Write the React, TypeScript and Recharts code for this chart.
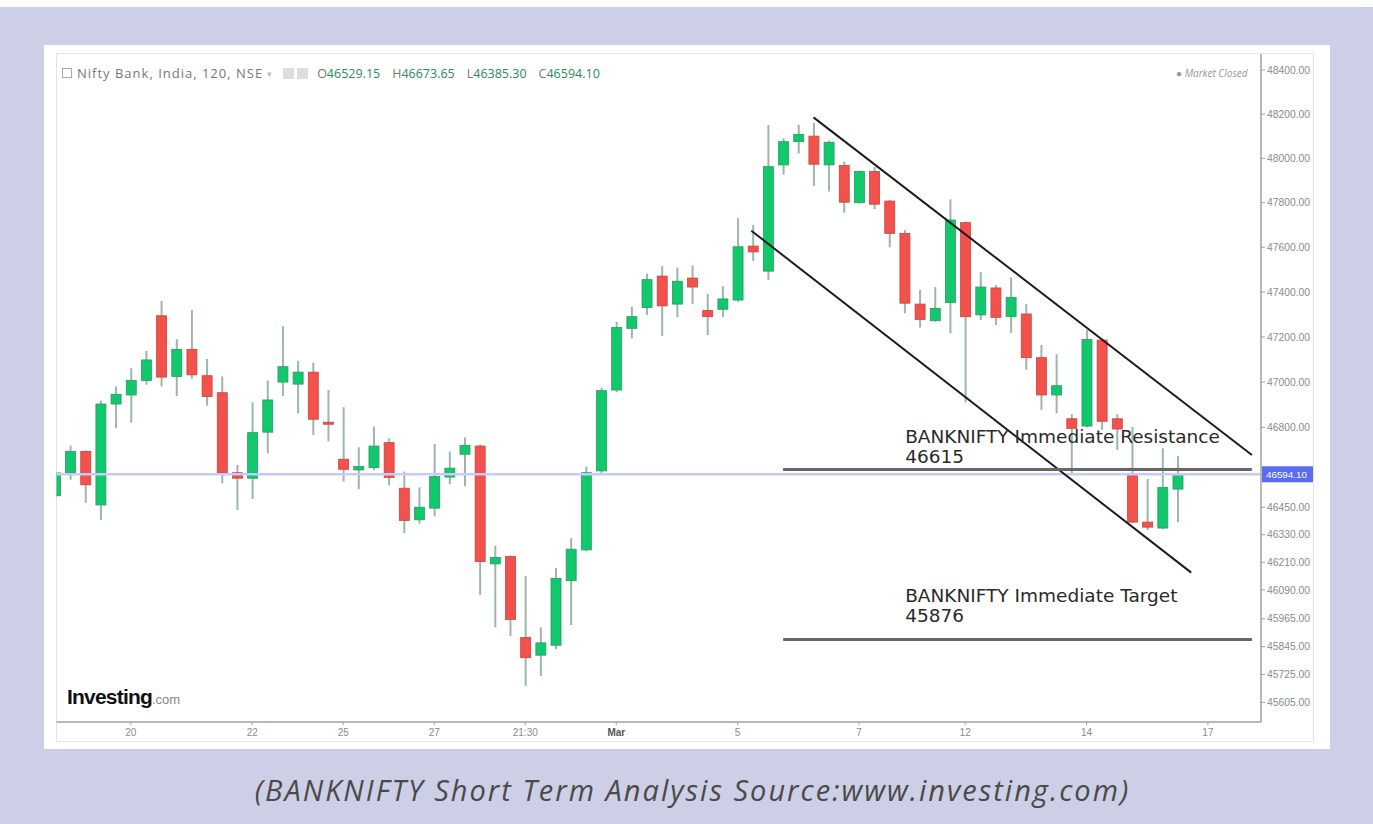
import React from 'react';
import { ComposedChart, Bar, XAxis, YAxis, ReferenceLine } from 'recharts';

// 120-minute candles (index 0 is the half-hidden one on the left edge)
const opens = [
  46500, 46601, 46694, 46460, 46903, 46943, 47007, 47294, 47025, 47145,
  47028, 46953, 46601, 46577, 46779, 47000, 46991, 47044, 46823, 46660,
  46613, 46624, 46733, 46533, 46395, 46446, 46582, 46682, 46718, 46203,
  46235, 45884, 45808, 45851, 46130, 46264, 46609, 46965, 47238, 47331,
  47471, 47346, 47462, 47317, 47323, 47364, 47605, 47493, 47970, 48075,
  48100, 47970, 47967, 47800, 47940, 47807, 47662, 47346, 47272, 47353,
  47710, 47298, 47418, 47290, 47302, 47108, 46943, 46838, 46806, 47186,
  46838, 46588, 46385, 46359, 46529.15,
];
const highs = [
  46615, 46720, 46700, 46918, 46980, 47061, 47138, 47360, 47191, 47320,
  47102, 47025, 46635, 46911, 47007, 47248, 47094, 47086, 46965, 46889,
  46713, 46804, 46752, 46606, 46537, 46727, 46694, 46756, 46725, 46282,
  46240, 46151, 45928, 46185, 46315, 46628, 46975, 47267, 47334, 47482,
  47515, 47509, 47519, 47391, 47426, 47730, 47700, 48150, 48090, 48150,
  48160, 48080, 47985, 47945, 47962, 47812, 47677, 47410, 47422, 47815,
  47715, 47489, 47430, 47465, 47346, 47164, 47123, 46858, 47231, 47190,
  46858, 46803, 46574, 46708, 46673.65,
];
const lows = [
  46480, 46570, 46470, 46395, 46796, 46821, 46988, 46980, 46939, 47015,
  46895, 46555, 46438, 46486, 46686, 46939, 46862, 46767, 46738, 46562,
  46529, 46613, 46545, 46337, 46378, 46410, 46551, 46541, 46068, 45928,
  45890, 45676, 45719, 45834, 45938, 46258, 46598, 46955, 47194, 47298,
  47204, 47288, 47346, 47208, 47288, 47357, 47539, 47453, 47925, 48022,
  47875, 47850, 47755, 47795, 47771, 47600, 47305, 47242, 47268, 47216,
  46910, 47275, 47253, 47218, 47054, 46877, 46862, 46598, 46800, 46789,
  46701, 46380, 46350, 46355, 46385.3,
];
const closes = [
  46600, 46694, 46548, 46903, 46946, 47007, 47098, 47022, 47145, 47032,
  46936, 46601, 46577, 46777, 46921, 47068, 47044, 46836, 46814, 46616,
  46628, 46718, 46580, 46392, 46450, 46584, 46621, 46721, 46213, 46231,
  45962, 45797, 45861, 46140, 46267, 46601, 46962, 47242, 47290, 47455,
  47338, 47448, 47422, 47290, 47369, 47602, 47579, 47962, 48075, 48108,
  47973, 48072, 47802, 47940, 47793, 47662, 47350, 47278, 47327, 47722,
  47290, 47422, 47287, 47376, 47108, 46943, 46984, 46796, 47189, 46827,
  46793, 46385, 46363, 46536, 46594.1,
];

const xTickIndex = [5, 13, 19, 25, 31, 37, 45, 53, 60, 68, 76];
const xTickLabels = ['20', '22', '25', '27', '21:30', 'Mar', '5', '7', '12', '14', '17'];
const priceTicks = [
  48400, 48200, 48000, 47800, 47600, 47400, 47200, 47000, 46800,
  46450, 46330, 46210, 46090, 45965, 45845, 45725, 45605,
];

const lastPrice = 46594.1;
const resistance = 46615;
const target = 45876;
// drawn channel lines: [startIndex, startPrice, endIndex, endPrice]
const upperChannel = [50, 48185, 78.9, 46679];
const lowerChannel = [45.9, 47674, 74.9, 46165];
const levelStart = 48;
const levelEnd = 78.9;

const candles = opens.map((o, i) => ({
  idx: i,
  open: o,
  high: highs[i],
  low: lows[i],
  close: closes[i],
  range: [lows[i], highs[i]],
}));

const Candle = (props: any) => {
  const { x, y, width, height, payload } = props;
  if (x == null || y == null) return null;
  const top = Math.min(y, y + height);
  const h = Math.abs(height);
  const lh = Math.log(payload.high);
  const ll = Math.log(payload.low);
  const py = (v: number) => top + (h * (lh - Math.log(v))) / (lh - ll || 1);
  const up = payload.close >= payload.open;
  const cx = x + width / 2;
  const yo = py(payload.open);
  const yc = py(payload.close);
  const bt = Math.min(yo, yc);
  const bh = Math.max(2, Math.abs(yo - yc));
  return (
    <g>
      <line x1={cx} x2={cx} y1={top} y2={top + h} stroke="#9db6a9" strokeWidth={2} />
      <rect
        x={x}
        y={bt}
        width={width}
        height={bh}
        fill={up ? '#12c86c' : '#f2514c'}
        stroke={up ? '#2a9a62' : '#c8453f'}
        strokeWidth={0.8}
      />
    </g>
  );
};

const XTick = (props: any) => {
  const { x, y, payload } = props;
  const label = xTickLabels[xTickIndex.indexOf(payload.value)] ?? '';
  const isMonth = label === 'Mar';
  return (
    <text
      x={x}
      y={y + 9}
      textAnchor="middle"
      fontSize={10}
      fontFamily="Arial, 'Liberation Sans', sans-serif"
      fontWeight={isMonth ? 700 : 400}
      fill={isMonth ? '#555' : '#8a8a8a'}
    >
      {label}
    </text>
  );
};

const PriceTag = (props: any) => {
  const vb = props.viewBox;
  if (!vb) return null;
  const x = vb.x + vb.width + 1;
  const y = vb.y;
  return (
    <g>
      <rect x={x} y={y - 8} width={51} height={16} fill="#5a6cf2" />
      <text x={x + 4} y={y + 3.5} fontSize={9.8} fill="#fff" fontFamily="Arial, 'Liberation Sans', sans-serif">
        {lastPrice.toFixed(2)}
      </text>
    </g>
  );
};

const levelLabel = (title: string, value: number, gap1: number, gap2: number) => (props: any) => {
  const vb = props.viewBox;
  if (!vb) return null;
  const x = vb.x + 122;
  return (
    <g fontFamily="'DejaVu Sans', Verdana, sans-serif" fontSize={18.5} fill="#2a2a2a">
      <text x={x} y={vb.y - gap1}>{title}</text>
      <text x={x} y={vb.y - gap2}>{value}</text>
    </g>
  );
};

export default function App() {
  return (
    <div style={{ position: 'absolute', left: 0, top: 0, width: 1373, height: 824, background: '#fff', overflow: 'hidden' }}>
      <div style={{ position: 'absolute', left: 0, top: 7, width: 1373, height: 817, background: '#cdcfe6' }} />
      <div style={{ position: 'absolute', left: 44, top: 45, width: 1286, height: 704, background: '#fff' }} />
      <div
        style={{
          position: 'absolute',
          left: 56,
          top: 53,
          width: 1256,
          height: 687,
          border: '1px solid #e3e5ec',
        }}
      />

      <div style={{ position: 'absolute', left: 0, top: 0 }}>
        <ComposedChart
          width={1373}
          height={824}
          data={candles}
          margin={{ top: 54, right: 52, bottom: 77, left: 56.5 }}
        >
          <XAxis
            dataKey="idx"
            type="number"
            domain={[0.1, 79.5]}
            allowDataOverflow
            ticks={xTickIndex}
            interval={0}
            height={25}
            tickSize={3}
            tick={<XTick />}
            axisLine={{ stroke: '#a0a0a0', strokeWidth: 1.5 }}
            tickLine={{ stroke: '#a0a0a0' }}
          />
          <YAxis
            orientation="right"
            type="number"
            scale="log"
            domain={[45521, 48473]}
            allowDataOverflow
            ticks={priceTicks}
            interval={0}
            width={60}
            tickSize={4}
            tickFormatter={(v: number) => v.toFixed(2)}
            tick={{ fontSize: 10.3, fill: '#8a8a8a', fontFamily: "Arial, 'Liberation Sans', sans-serif" }}
            axisLine={{ stroke: '#a0a0a0', strokeWidth: 1.5 }}
            tickLine={{ stroke: '#a0a0a0' }}
          />
          <ReferenceLine y={lastPrice} stroke="#c7cbf7" strokeWidth={2.5} label={PriceTag} />
          <Bar dataKey="range" barSize={10} shape={<Candle />} isAnimationActive={false} />
          <ReferenceLine
            segment={[
              { x: upperChannel[0], y: upperChannel[1] },
              { x: upperChannel[2], y: upperChannel[3] },
            ]}
            stroke="#1c1c1c"
            strokeWidth={2}
            ifOverflow="visible"
          />
          <ReferenceLine
            segment={[
              { x: lowerChannel[0], y: lowerChannel[1] },
              { x: lowerChannel[2], y: lowerChannel[3] },
            ]}
            stroke="#1c1c1c"
            strokeWidth={2}
            ifOverflow="visible"
          />
          <ReferenceLine
            segment={[
              { x: levelStart, y: resistance },
              { x: levelEnd, y: resistance },
            ]}
            stroke="#666"
            strokeWidth={3}
            ifOverflow="visible"
            label={levelLabel('BANKNIFTY Immediate Resistance', resistance, 27, 7)}
          />
          <ReferenceLine
            segment={[
              { x: levelStart, y: target },
              { x: levelEnd, y: target },
            ]}
            stroke="#666"
            strokeWidth={3}
            ifOverflow="visible"
            label={levelLabel('BANKNIFTY Immediate Target', target, 37, 17)}
          />
        </ComposedChart>
      </div>

      <div
        style={{
          position: 'absolute',
          left: 62,
          top: 64,
          fontFamily: "'Open Sans', Arial, sans-serif",
          color: '#777',
          whiteSpace: 'nowrap',
          display: 'flex',
          alignItems: 'center',
        }}
      >
        <span style={{ display: 'inline-block', width: 10, height: 10, border: '1px solid #aaa', marginRight: 5, boxSizing: 'border-box' }} />
        <span style={{ fontSize: 13, letterSpacing: 1 }}>Nifty Bank, India, 120, NSE</span>
        <span style={{ color: '#bbb', margin: '0 11px 0 4px', fontSize: 9 }}>▾</span>
        <span style={{ display: 'inline-block', width: 11, height: 11, background: '#ddd', marginRight: 3 }} />
        <span style={{ display: 'inline-block', width: 11, height: 11, background: '#ddd', marginRight: 9 }} />
        <span style={{ fontSize: 12.5, display: 'flex' }}>
          <span>O</span><span style={{ color: '#2a8a5a', marginRight: 12 }}>46529.15</span>
          <span>H</span><span style={{ color: '#2a8a5a', marginRight: 12 }}>46673.65</span>
          <span>L</span><span style={{ color: '#2a8a5a', marginRight: 12 }}>46385.30</span>
          <span>C</span><span style={{ color: '#2a8a5a' }}>46594.10</span>
        </span>
      </div>
      <div
        style={{
          position: 'absolute',
          left: 1176,
          top: 66,
          fontFamily: "'Open Sans', Arial, sans-serif",
          fontSize: 10,
          fontStyle: 'italic',
          color: '#999',
          whiteSpace: 'nowrap',
        }}
      >
        ● Market Closed
      </div>

      <div
        style={{
          position: 'absolute',
          left: 67,
          top: 685,
          whiteSpace: 'nowrap',
          fontFamily: "Arial, 'Liberation Sans', sans-serif",
        }}
      >
        <span style={{ fontSize: 21, fontWeight: 700, color: '#111', letterSpacing: -0.8 }}>Investing</span>
        <span style={{ fontSize: 13, color: '#888' }}>.com</span>
      </div>

      <div
        style={{
          position: 'absolute',
          left: 0,
          width: 1385,
          top: 770,
          textAlign: 'center',
          fontFamily: "'Open Sans', Lato, sans-serif",
          fontStyle: 'italic',
          fontSize: 29,
          letterSpacing: 2,
          color: '#4a4a4a',
          whiteSpace: 'nowrap',
        }}
      >
        (BANKNIFTY Short Term Analysis Source:www.investing.com)
      </div>
    </div>
  );
}
